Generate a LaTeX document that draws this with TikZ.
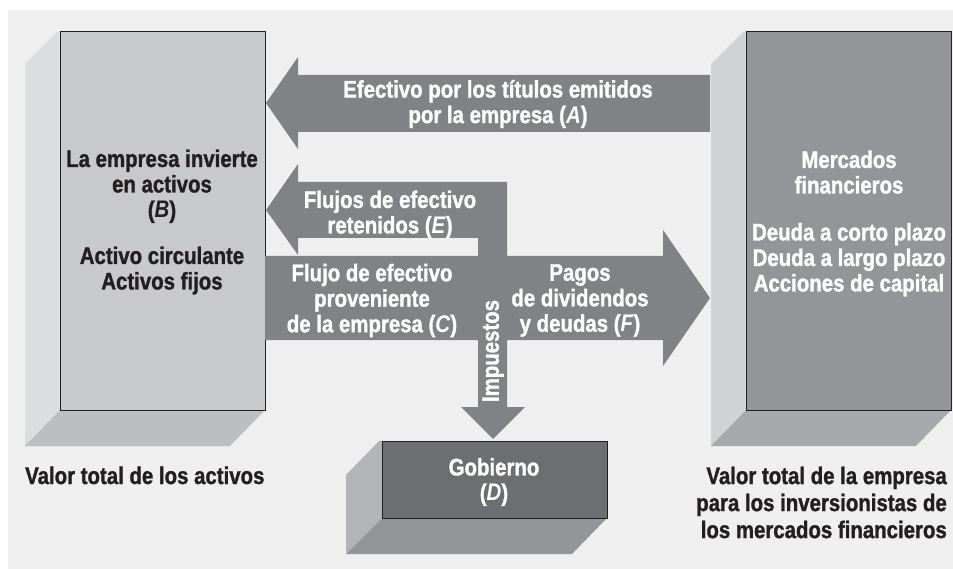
\documentclass[tikz,border=0pt]{standalone}
\usepackage{fontspec}
\setmainfont{Liberation Sans}[FakeStretch=0.85, BoldFeatures={FakeBold=1.2}]
\definecolor{panel}{HTML}{EFEFEF}
\definecolor{flowgray}{HTML}{808285}
\definecolor{frontB}{HTML}{C8C9CB}
\definecolor{sideB}{HTML}{DCDDDF}
\definecolor{bottomB}{HTML}{BDBEC0}
\definecolor{frontM}{HTML}{939598}
\definecolor{sideM}{HTML}{D1D2D4}
\definecolor{bottomM}{HTML}{A7A9AC}
\definecolor{frontD}{HTML}{6D6E71}
\definecolor{sideD}{HTML}{B3B4B7}
\definecolor{bottomD}{HTML}{939598}
\definecolor{ink}{HTML}{231F20}
\tikzset{
  lbl/.style={font=\fontsize{24}{25.5}\selectfont\bfseries, align=center, inner sep=0pt, text=ink},
  wlbl/.style={lbl, text=white},
  front/.style={draw=ink, line width=1pt}
}
\begin{document}
\begin{tikzpicture}[x=1pt,y=-1pt]
		%%%%% START %%%%%
		\useasboundingbox (0,0) rectangle (953,569);
		\fill[white] (0,0) rectangle (953,569);
		\fill[panel] (8,10) rectangle (953,569);
		
		% empresa (B)
		\fill[sideB] (25,64) -- (57,32) -- (60,32) -- (60,410) -- (25,446) -- cycle;
		\fill[bottomB] (60,410) -- (265,410) -- (230,446) -- (25,446) -- cycle;
		\draw[front, fill=frontB] (60,32) rectangle (265,410);
		
		% mercados financieros
		\fill[sideM] (711,64) -- (743,32) -- (746,32) -- (746,410) -- (711,446) -- cycle;
		\fill[bottomM] (746,410) -- (951,410) -- (916,446) -- (711,446) -- cycle;
		\draw[front, fill=frontM] (746,32) rectangle (951,410);
		
		% gobierno (D)
		\fill[sideD] (346,475) -- (379,441) -- (382,441) -- (382,518) -- (346,554) -- cycle;
		\fill[bottomD] (382,518) -- (607,518) -- (572,554) -- (346,554) -- cycle;
		\draw[front, fill=frontD] (382,441) rectangle (607,518);
		
		% flecha (A)
		\fill[flowgray] (710,75) -- (298,75) -- (298,57) -- (266,103) -- (298,149)
			-- (298,132) -- (710,132) -- cycle;
		
		% flechas (E), (C)/(F) e impuestos
		\fill[flowgray] (266,210) -- (298,164) -- (298,182) -- (507,182) -- (507,256)
			-- (663,256) -- (663,230) -- (710,298) -- (663,366) -- (663,340)
			-- (507,340) -- (507,407) -- (525,407) -- (493,439) -- (461,407)
			-- (478,407) -- (478,340) -- (265,340) -- (265,256) -- (478,256)
			-- (478,238) -- (298,238) -- (298,255) -- cycle;
		
		% textos
		\node[lbl] (empresa) at (162,222) {La empresa invierte\\en activos\\(\textit{B})\\[20.5pt]Activo circulante\\Activos fijos};
		\node[wlbl] (mercados) at (849,223.5) {Mercados\\financieros\\[21.5pt]Deuda a corto plazo\\Deuda a largo plazo\\Acciones de capital};
		\node[wlbl] (gobierno) at (494,482) {Gobierno\\(\textit{D})};
		
		\node[wlbl] (titulos) at (498,104) {Efectivo por los títulos emitidos\\por la empresa (\textit{A})};
		\node[wlbl] (retenidos) at (390,214.5) {Flujos de efectivo\\retenidos (\textit{E})};
		\node[wlbl] (flujo) at (372,300.5) {Flujo de efectivo\\proveniente\\de la empresa (\textit{C})};
		\node[wlbl] (pagos) at (580,300.5) {Pagos\\de dividendos\\y deudas (\textit{F})};
		\node[wlbl, rotate=90] (impuestos) at (493,351) {Impuestos};
		
		\node[lbl, anchor=base west] (valoractivos) at (25,484) {Valor total de los activos};
		\node[lbl, align=right, anchor=east, font=\fontsize{24}{27}\selectfont\bfseries] (valorempresa) at (947,502.5)
			{Valor total de la empresa\\para los inversionistas de\\los mercados financieros};
		%%%%% END %%%%%
\end{tikzpicture}
\end{document}
